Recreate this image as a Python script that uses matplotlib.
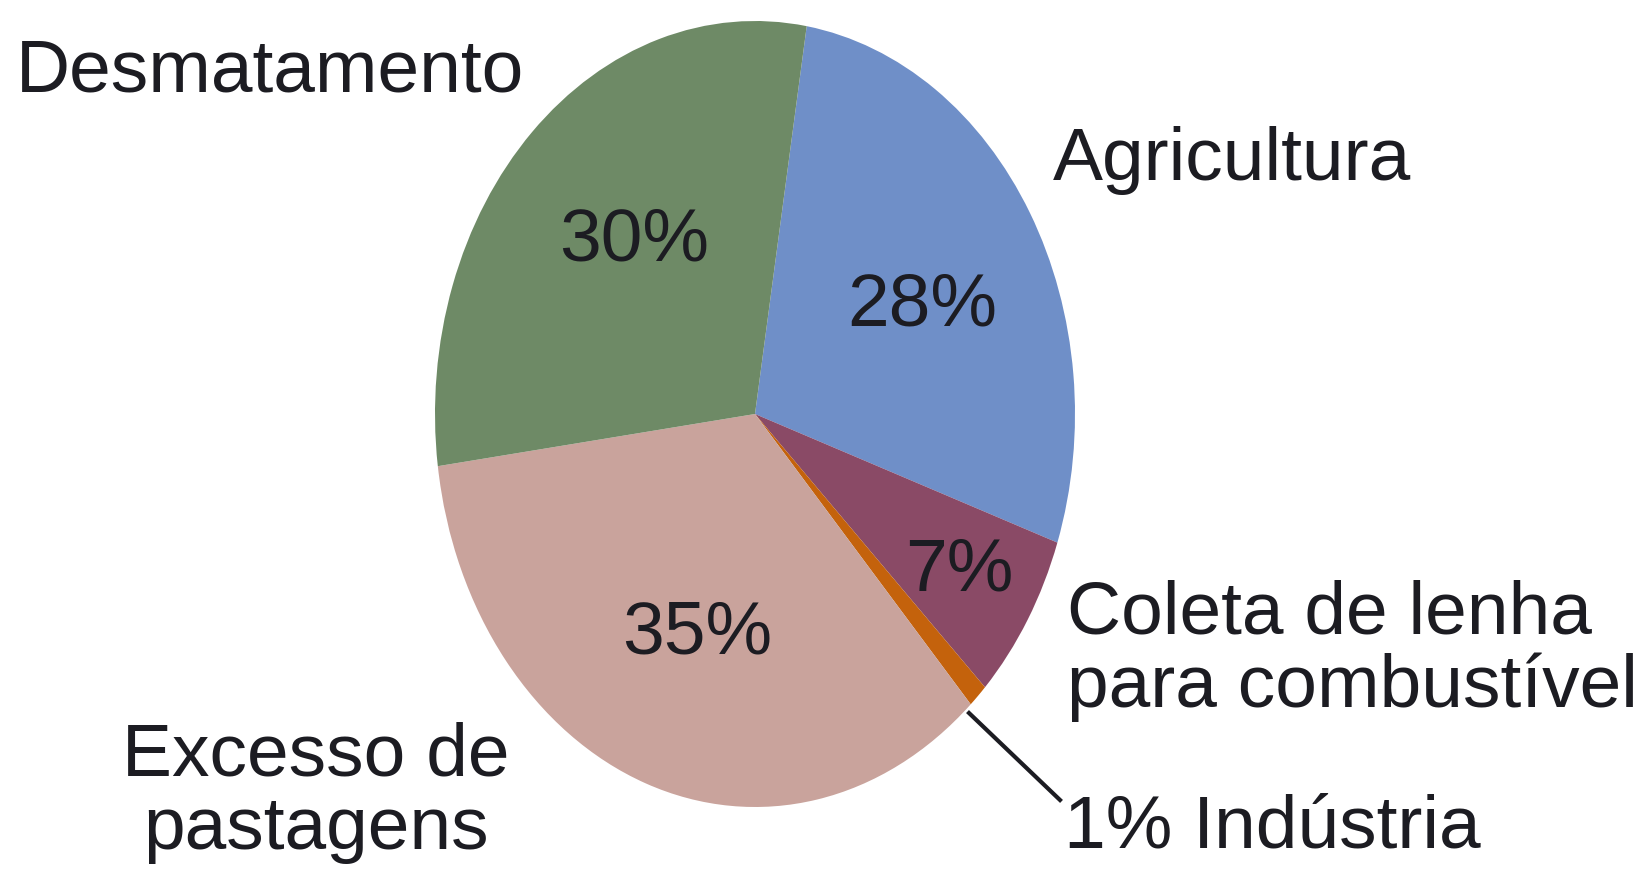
import matplotlib
matplotlib.use("Agg")
import matplotlib.pyplot as plt

# dados do grafico (sentido horario a partir do topo)
categorias = ["Agricultura", "Coleta de lenha\npara combustível", "Indústria",
              "Excesso de\npastagens", "Desmatamento"]
valores = [28, 7, 1, 35, 30]
rotulos_pct = ["28%", "7%", "", "35%", "30%"]
cores = ["#6f8fc8", "#8a4a66", "#c4620c", "#c9a39c", "#6e8a66"]

W, H = 1643, 877
plt.rcParams["font.family"] = ["Liberation Sans", "DejaVu Sans"]

def px(x, y):
    return x / W, 1 - y / H

fig = plt.figure(figsize=(W / 100, H / 100), dpi=100)
# eixo esticado para a pizza ficar eliptica
cx, cy, rx, ry = 755, 414, 320, 393
ax = fig.add_axes([(cx - rx) / W, (H - cy - ry) / H, 2 * rx / W, 2 * ry / H])
ax.pie(valores, colors=cores, startangle=80.7, counterclock=False,
       wedgeprops=dict(linewidth=0))
ax.set_aspect("auto")
ax.set_xlim(-1, 1)
ax.set_ylim(-1, 1)
ax.axis("off")

tam = 54
cor_txt = "#1c1c22"

# percentuais dentro das fatias
pos_pct = [(922, 306), (959, 571), None, (697, 634), (634, 241)]
for r, p in zip(rotulos_pct, pos_pct):
    if p:
        fig.text(*px(*p), r, fontsize=tam, color=cor_txt, ha="center", va="center")

# rotulos externos
fig.text(*px(16, 92), categorias[4], fontsize=tam, color=cor_txt, ha="left", va="baseline")
fig.text(*px(1053, 180), categorias[0], fontsize=tam, color=cor_txt, ha="left", va="baseline")
fig.text(*px(1067, 634), categorias[1].split("\n")[0], fontsize=tam, color=cor_txt, ha="left", va="baseline")
fig.text(*px(1067, 707), categorias[1].split("\n")[1], fontsize=tam, color=cor_txt, ha="left", va="baseline")
fig.text(*px(316, 776), categorias[3].split("\n")[0], fontsize=tam, color=cor_txt, ha="center", va="baseline")
fig.text(*px(316, 849), categorias[3].split("\n")[1], fontsize=tam, color=cor_txt, ha="center", va="baseline")
fig.text(*px(1064, 847), "1% " + categorias[2], fontsize=tam, color=cor_txt, ha="left", va="baseline")

# linha de chamada da industria
x0, y0 = px(969, 713)
x1, y1 = px(1060, 800)
fig.add_artist(plt.Line2D([x0, x1], [y0, y1], color=cor_txt, linewidth=3))

fig.savefig("out.png", dpi=100, facecolor="white")
